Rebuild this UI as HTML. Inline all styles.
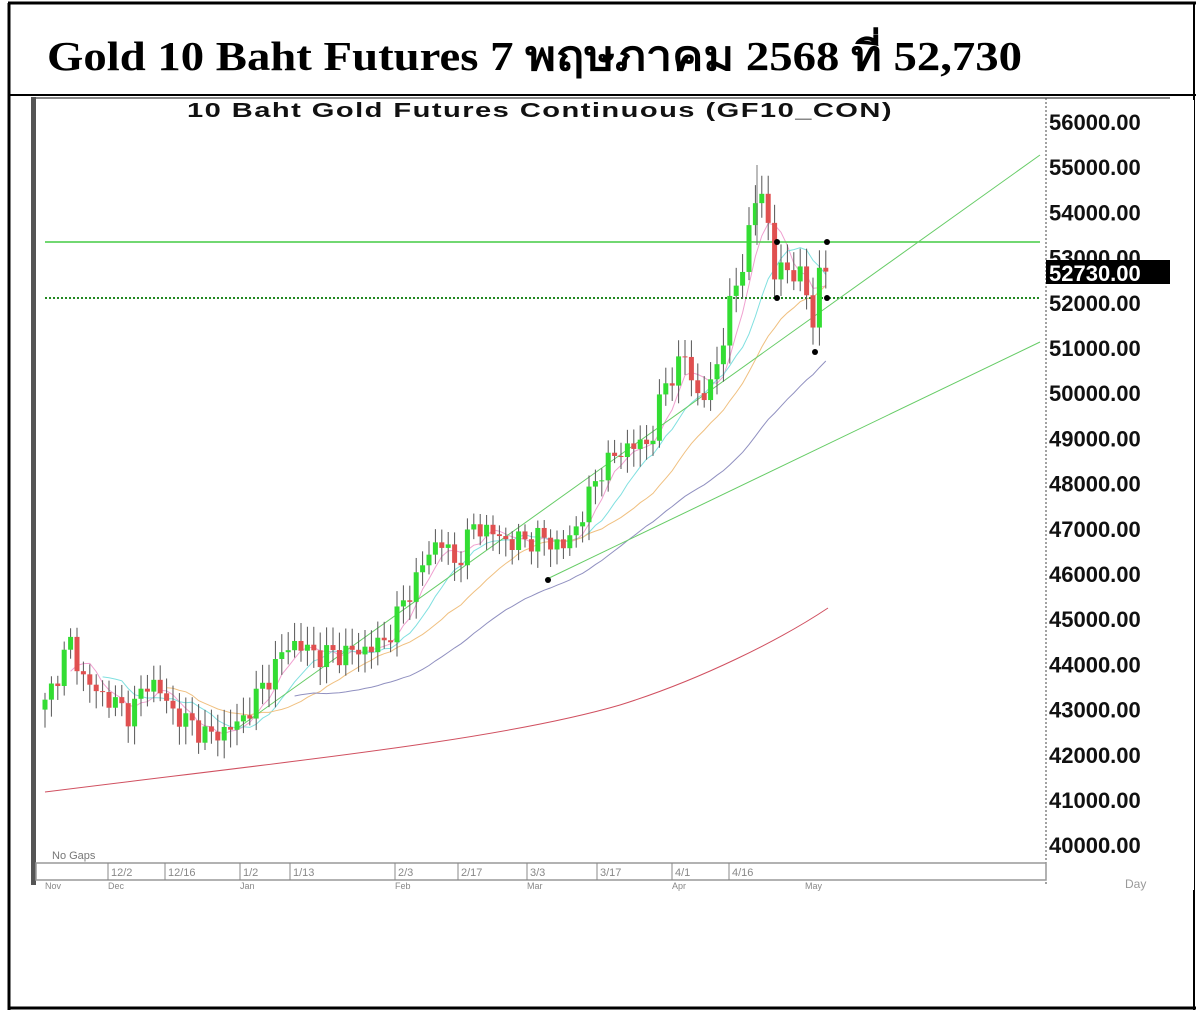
<!DOCTYPE html>
<html><head><meta charset="utf-8"><style>
body{margin:0;background:#fff;width:1200px;height:1015px;overflow:hidden}
svg{display:block}
</style></head><body>
<svg id="s" width="1200" height="1015" xmlns="http://www.w3.org/2000/svg">
<rect x="0" y="0" width="1200" height="1015" fill="#fff"/>
<line x1="8" y1="3" x2="1196" y2="3" stroke="#000" stroke-width="3"/>
<line x1="9" y1="3" x2="9" y2="1010" stroke="#000" stroke-width="3"/>
<line x1="1194" y1="3" x2="1194" y2="1010" stroke="#000" stroke-width="2"/>
<line x1="8" y1="95" x2="1196" y2="95" stroke="#000" stroke-width="2"/>
<line x1="8" y1="1008" x2="1196" y2="1008" stroke="#000" stroke-width="3"/>
<text x="47" y="70" font-family="Liberation Serif, DejaVu Serif, serif" font-weight="bold" font-size="41" fill="#000" textLength="975" lengthAdjust="spacingAndGlyphs">Gold 10 Baht Futures  7 พฤษภาคม 2568 ที่ 52,730</text>
<rect x="31" y="97" width="5" height="788" fill="#555"/>
<line x1="36" y1="98" x2="1170" y2="98" stroke="#888" stroke-width="2"/>
<line x1="1046" y1="98" x2="1046" y2="885" stroke="#444" stroke-width="1" stroke-dasharray="2,2"/>
<text x="187" y="117" font-family="Liberation Sans, sans-serif" font-weight="bold" font-size="20" fill="#111" textLength="706" lengthAdjust="spacingAndGlyphs" letter-spacing="1">10 Baht Gold Futures Continuous (GF10_CON)</text>
<g id="g"></g>
</svg>
<script>
var g=document.getElementById('g'),h='';
function Y(p){return 122+(56000-p)*0.0452;}
for(var p=56000;p>=40000;p-=1000){h+='<text x="1049" y="'+(Y(p)+8)+'" font-family="Liberation Sans,sans-serif" font-weight="bold" font-size="22" fill="#111">'+p+'.00</text>';}
h+='<rect x="1170" y="100" width="24" height="790" fill="#fff"/>';
h+='<rect x="1046" y="260" width="124" height="24" fill="#000"/><text x="1049" y="281" font-family="Liberation Sans,sans-serif" font-weight="bold" font-size="22" fill="#fff">52730.00</text>';
h+='<rect x="36" y="863" width="1010" height="17" fill="none" stroke="#999" stroke-width="1.5"/>';
var d=[[108,'12/2'],[165,'12/16'],[240,'1/2'],[290,'1/13'],[395,'2/3'],[458,'2/17'],[527,'3/3'],[597,'3/17'],[672,'4/1'],[729,'4/16']];
d.forEach(function(a){h+='<line x1="'+a[0]+'" y1="863" x2="'+a[0]+'" y2="880" stroke="#888"/><text x="'+(a[0]+3)+'" y="876" font-family="Liberation Sans,sans-serif" font-size="11" fill="#888">'+a[1]+'</text>';});
h+='<text x="52" y="859" font-family="Liberation Sans,sans-serif" font-size="11" fill="#777">No Gaps</text>';
h+='<text x="1125" y="888" font-family="Liberation Sans,sans-serif" font-size="12" fill="#999">Day</text>';
[[45,'Nov'],[108,'Dec'],[240,'Jan'],[395,'Feb'],[527,'Mar'],[672,'Apr'],[805,'May']].forEach(function(a){h+='<text x="'+a[0]+'" y="889" font-family="Liberation Sans,sans-serif" font-size="9" fill="#888">'+a[1]+'</text>';});
var k=[[45,43100],[70,44500],[85,43600],[130,42900],[150,43700],[175,42900],[210,42400],[240,42700],[260,43400],[290,44500],[320,44200],[360,44300],[385,44500],[400,45200],[430,46500],[440,46800],[455,46200],[475,47100],[510,46700],[540,46800],[565,46600],[580,47200],[600,48300],[625,48800],[650,48900],[665,50200],[685,50800],[700,49800],[712,50200],[730,51900],[745,53100],[758,54500],[766,54400],[772,52600],[790,52800],[805,52400],[812,51500],[820,52700],[828,52730]];
function interp(x){for(var i=1;i<k.length;i++){if(x<=k[i][0]){var a=k[i-1],b=k[i];return a[1]+(b[1]-a[1])*(x-a[0])/(b[0]-a[0]);}}return k[k.length-1][1];}
var bars=[],n=0,prev=43000;
for(var x=45;x<=828;x+=6.4){var c=interp(x)+Math.sin(n*2.3)*180+Math.cos(n*1.7)*120;var o=prev;bars.push([x,o,c]);prev=c;n++;}
var col=['#f0a0d0','#80e0e0','#f0c080','#9090c0'],per=[5,10,20,40];
per.forEach(function(P,j){var pts=[];for(var i=P-1;i<bars.length;i++){var s=0;for(var m=i-P+1;m<=i;m++)s+=bars[m][2];pts.push(bars[i][0].toFixed(1)+','+Y(s/P).toFixed(1));}h+='<polyline points="'+pts.join(' ')+'" fill="none" stroke="'+col[j]+'" stroke-width="1"/>';});
h+='<path d="M45,792 C300,760 500,740 620,705 C700,680 780,640 828,608" fill="none" stroke="#d05060" stroke-width="1"/>';
h+='<line x1="45" y1="242" x2="1040" y2="242" stroke="#44cc44" stroke-width="1.5"/>';
h+='<line x1="45" y1="298" x2="1040" y2="298" stroke="#228822" stroke-width="2" stroke-dasharray="2,2"/>';
h+='<line x1="235" y1="730" x2="1040" y2="155" stroke="#66cc66" stroke-width="1"/>';
h+='<line x1="545" y1="580" x2="1040" y2="342" stroke="#66cc66" stroke-width="1"/>';
bars.forEach(function(b,i){var o=b[1],c=b[2],hi=Math.max(o,c)+150+Math.abs(Math.sin(i*3.1))*250,lo=Math.min(o,c)-150-Math.abs(Math.cos(i*2.7))*250;
h+='<line x1="'+b[0]+'" y1="'+Y(hi)+'" x2="'+b[0]+'" y2="'+Y(lo)+'" stroke="#555" stroke-width="1"/>';
var t=Y(Math.max(o,c)),bt=Y(Math.min(o,c));h+='<rect x="'+(b[0]-2.5)+'" y="'+t+'" width="5" height="'+Math.max(1,bt-t)+'" fill="'+(c>=o?'#33dd33':'#e05050')+'"/>';});
h+='<line x1="757" y1="165" x2="757" y2="245" stroke="#777"/>';
[[777,242],[827,242],[777,298],[827,298],[548,580],[815,352]].forEach(function(a){h+='<circle cx="'+a[0]+'" cy="'+a[1]+'" r="3" fill="#000"/>';});
g.innerHTML=h;
</script>
</body></html>
